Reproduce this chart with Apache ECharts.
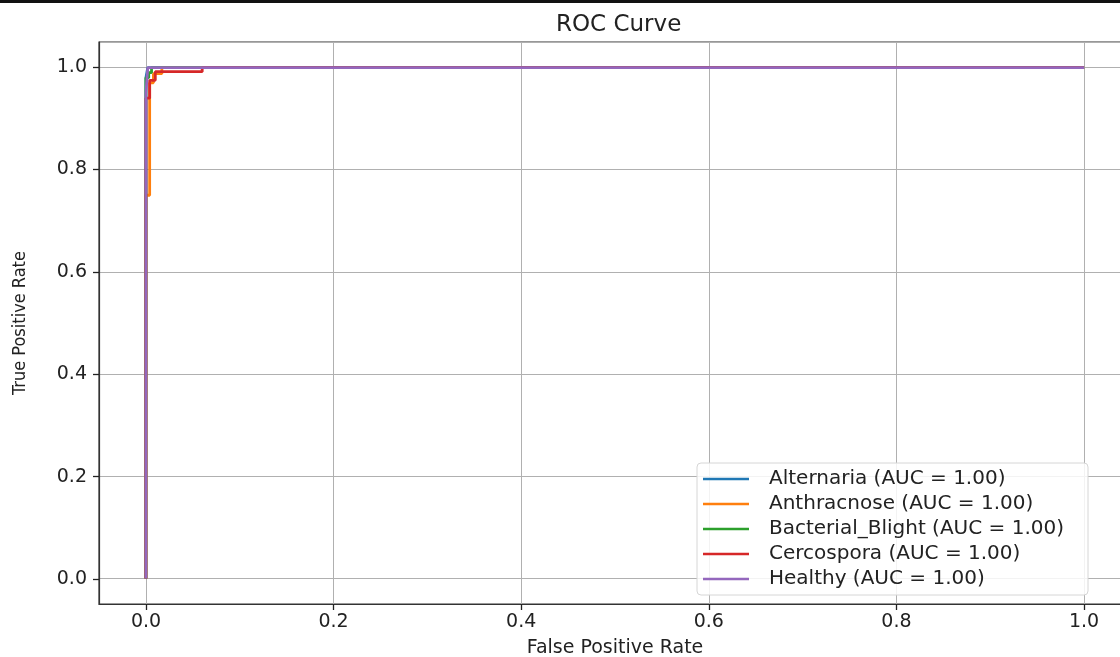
<!DOCTYPE html>
<html>
<head>
<meta charset="utf-8">
<title>ROC Curve</title>
<script src="https://cdn.jsdelivr.net/npm/echarts@6/dist/echarts.min.js"></script>
<style>
  html, body { margin: 0; padding: 0; background: #fff; }
  #chart { width: 1120px; height: 657px; }
</style>
</head>
<body>
<div id="chart"></div>
<script>
// class names + colours (matplotlib tab10)
const classNames = ['Alternaria', 'Anthracnose', 'Bacterial_Blight', 'Cercospora', 'Healthy'];
const classColors = ['#1f77b4', '#ff7f0e', '#2ca02c', '#d62728', '#9467bd'];
const aucValues = ['1.00', '1.00', '1.00', '1.00', '1.00'];

// ROC points (fpr / tpr)
const alternariaFpr = [0, 0, 0.002, 0.002, 1];
const alternariaTpr = [0, 0.98, 0.98, 1, 1];
const anthracnoseFpr = [0, 0, 0.004, 0.004, 0.008, 0.008, 0.017, 0.017, 1];
const anthracnoseTpr = [0, 0.75, 0.75, 0.97, 0.97, 0.988, 0.988, 1, 1];
const blightFpr = [0, 0, 0.003, 0.003, 0.006, 0.006, 1];
const blightTpr = [0, 0.98, 0.98, 0.99, 0.99, 1, 1];
const cercosporaFpr = [0, 0, 0.004, 0.004, 0.01, 0.01, 0.06, 0.06, 1];
const cercosporaTpr = [0, 0.94, 0.94, 0.975, 0.975, 0.992, 0.992, 1, 1];
const healthyFpr = [0, 0, 0.002, 0.002, 1];
const healthyTpr = [0, 0.95, 0.95, 1, 1];

const tickValues = [0, 0.2, 0.4, 0.6, 0.8, 1.0];

const fprList = [alternariaFpr, anthracnoseFpr, blightFpr, cercosporaFpr, healthyFpr];
const tprList = [alternariaTpr, anthracnoseTpr, blightTpr, cercosporaTpr, healthyTpr];

const font = 'DejaVu Sans';
const chart = echarts.init(document.getElementById('chart'));

const series = classNames.map(function (name, i) {
  return {
    name: name + ' (AUC = ' + aucValues[i] + ')',
    type: 'line',
    symbol: 'none',
    animation: false,
    lineStyle: { width: 2.8, color: classColors[i] },
    itemStyle: { color: classColors[i] },
    data: fprList[i].map(function (x, k) { return [x, tprList[i][k]]; }),
    z: 3 + i,
  };
});

// main axes: full -0.05..1.05 range, grid lines + spines only
const mainAxis = {
  type: 'value',
  min: -0.05,
  max: 1.05,
  axisLine: { show: true, onZero: false, lineStyle: { color: '#333', width: 1.2 } },
  axisTick: { show: false },
  axisLabel: { show: false, customValues: tickValues },
  splitLine: { show: true, lineStyle: { color: '#b0b0b0', width: 1 } },
};

// tick axes: 0..1 range in a second grid, pushed out onto the spines
const tickAxis = {
  type: 'value',
  min: 0,
  max: 1,
  interval: 0.2,
  axisLine: { show: false, onZero: false },
  axisTick: { show: true, length: 6, lineStyle: { color: '#222', width: 1.3 } },
  axisLabel: {
    color: '#222',
    fontFamily: font,
    fontSize: 19,
    formatter: function (v) { return v.toFixed(1); },
  },
  splitLine: { show: false },
};

chart.setOption({
  backgroundColor: '#fff',
  animation: false,
  title: {
    text: 'ROC Curve',
    left: 551,
    top: 9,
    textStyle: { fontFamily: font, fontSize: 23, fontWeight: 'normal', color: '#222' },
  },
  grid: [{
    left: 99,
    top: 42,
    width: 1032,
    height: 562,
    show: true,
    borderColor: '#333',
    borderWidth: 1.2,
    containLabel: false,
    outerBoundsMode: 'none',
  }, {
    left: 146,
    top: 67,
    width: 938,
    height: 512,
    containLabel: false,
    outerBoundsMode: 'none',
  }],
  legend: {
    orient: 'vertical',
    left: 697,
    top: 463,
    padding: [6, 24, 6, 6],
    icon: 'rect',
    itemWidth: 46,
    itemHeight: 2.5,
    itemGap: 5,
    backgroundColor: 'rgba(255,255,255,0.85)',
    borderColor: '#d6d6d6',
    borderWidth: 1,
    borderRadius: 4,
    textStyle: { fontFamily: font, fontSize: 20, color: '#222', padding: [0, 0, 0, 15] },
    data: series.map(function (s) { return s.name; }),
  },
  xAxis: [
    Object.assign({}, mainAxis, {
      gridIndex: 0,
      name: 'False Positive Rate',
      nameLocation: 'middle',
      nameGap: 35,
      nameTextStyle: { fontFamily: font, fontSize: 19, color: '#222' },
    }),
    Object.assign({}, tickAxis, {
      gridIndex: 1,
      position: 'bottom',
      offset: 25,
      axisLabel: Object.assign({}, tickAxis.axisLabel, { margin: 9 }),
    }),
  ],
  yAxis: [
    Object.assign({}, mainAxis, {
      gridIndex: 0,
      name: 'True Positive Rate',
      nameLocation: 'middle',
      nameGap: 70,
      nameTextStyle: { fontFamily: 'Liberation Sans Narrow, DejaVu Sans Condensed, ' + font, fontSize: 18, color: '#222' },
    }),
    Object.assign({}, tickAxis, {
      gridIndex: 1,
      position: 'left',
      offset: 47,
      axisLabel: Object.assign({}, tickAxis.axisLabel, { margin: 12 }),
    }),
  ],
  graphic: [{
    type: 'rect',
    shape: { x: 0, y: 0, width: 1120, height: 3 },
    style: { fill: '#111' },
    silent: true,
  }],
  series: series,
});
</script>
</body>
</html>
